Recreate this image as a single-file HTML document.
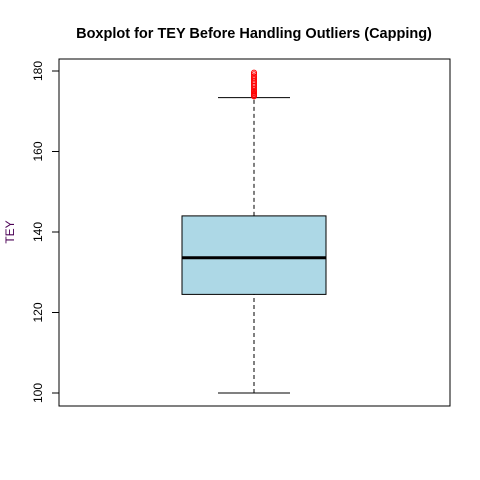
<!DOCTYPE html>
<html><head><meta charset="utf-8"><style>
body{margin:0;background:#fff;}
svg{display:block;font-family:"Liberation Sans",Arial,sans-serif;}
</style></head><body>
<svg id="chart" width="480" height="480">
<text x="254" y="38" text-anchor="middle" font-size="14.5" font-weight="bold">Boxplot for TEY Before Handling Outliers (Capping)</text>
<text transform="translate(14,232) rotate(-90)" text-anchor="middle" font-size="12" fill="#4b0055">TEY</text>
<rect x="59" y="59" width="391" height="347" fill="none" stroke="#000"/>
<g id="axis"></g>
<g id="marks"></g>
</svg>
<script>
const yTicks=[100,120,140,160,180];
const stats=[100,124.5,133.6,144,173.4]; // min, q1, median, q3, max whisker
const outliers=[179.6,179.2,178.7,178.3,177.9,177.5,177.1,176.7,176.3,175.9,175.5,175.1,174.8,174.5,174.2,173.9,173.7];
const NS="http://www.w3.org/2000/svg";
function y(v){return 393-(v-100)*4.025;}
const cx=254;
function mk(tag,attrs,parent){const e=document.createElementNS(NS,tag);for(const k in attrs)e.setAttribute(k,attrs[k]);parent.appendChild(e);return e;}
const ax=document.getElementById('axis'), g=document.getElementById('marks');
mk('line',{x1:59,x2:59,y1:y(100),y2:y(180),stroke:'#000'},ax);
yTicks.forEach(t=>{
  const l=mk('line',{x1:52,x2:59,y1:y(t),y2:y(t),stroke:'#000'},ax);
  
  
  const tx=mk('text',{transform:`translate(42,${y(t)}) rotate(-90)`,'text-anchor':'middle','font-size':12},ax);
  tx.textContent=t;
  
  
});
const [mn,q1,md,q3,mx]=stats;
let e;
e=mk('line',{x1:cx,x2:cx,y1:y(q3),y2:y(mx),stroke:'#000','stroke-dasharray':'4,3'},g);

e=mk('line',{x1:cx,x2:cx,y1:y(mn),y2:y(q1),stroke:'#000','stroke-dasharray':'4,3'},g);

e=mk('line',{x1:218,x2:290,y1:y(mx),y2:y(mx),stroke:'#000'},g);

e=mk('line',{x1:218,x2:290,y1:y(mn),y2:y(mn),stroke:'#000'},g);

e=mk('rect',{x:182,width:144,y:y(q3),height:y(q1)-y(q3),fill:'#add8e6',stroke:'#000'},g);

e=mk('line',{x1:182,x2:326,y1:y(md),y2:y(md),stroke:'#000','stroke-width':3},g);

outliers.forEach(v=>{
  const c=mk('circle',{cx:cx,cy:y(v),r:2.5,fill:'none',stroke:'red'},g);
  
  
});
</script>
</body></html>
